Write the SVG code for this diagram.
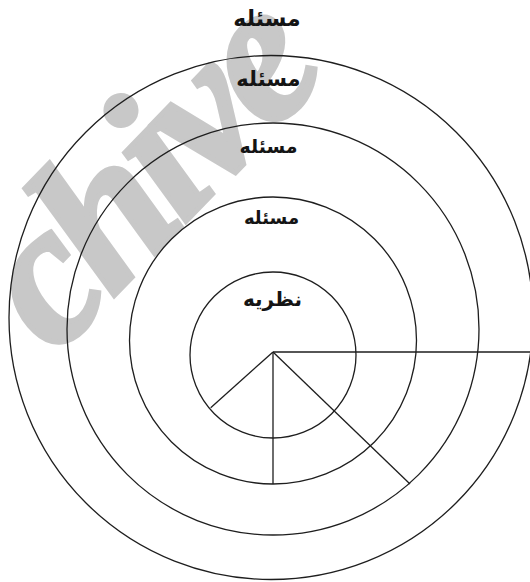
<svg xmlns="http://www.w3.org/2000/svg" width="530" height="582" viewBox="0 0 530 582">
<style>
.ring{fill:none;stroke:#1e1e1e;stroke-width:1.3}
.ln{stroke:#1e1e1e;stroke-width:1.3;fill:none}
.lbl{font-family:"DejaVu Sans",sans-serif;font-weight:bold;fill:#141414;text-anchor:middle}
.wm{font-family:"Liberation Serif",serif;font-weight:bold;font-style:italic;fill:#c8c8c8;stroke:#c8c8c8;stroke-width:5}
</style>
<rect width="530" height="582" fill="#ffffff"/>
<text class="wm" font-size="200" letter-spacing="-9" transform="translate(56,356) rotate(-46)">chive</text>
<g id="ring4"><circle class="ring" cx="271" cy="317.5" r="262"/></g>
<g id="ring3"><circle class="ring" cx="273" cy="329" r="206"/></g>
<g id="ring2"><circle class="ring" cx="273" cy="340.5" r="143.5"/></g>
<g id="ring1"><circle class="ring" cx="273" cy="355" r="83"/></g>
<g id="connectors">
<line class="ln" x1="273" y1="352" x2="530" y2="352"/>
<line class="ln" x1="273" y1="352" x2="273" y2="484"/>
<line class="ln" x1="273" y1="352" x2="210.7" y2="407.7"/>
<line class="ln" x1="273" y1="352" x2="410" y2="484"/>
</g>
<g id="label1"><text class="lbl" x="267" y="26" font-size="22">مسئله</text></g>
<g id="label2"><text class="lbl" x="268.5" y="86" font-size="21">مسئله</text></g>
<g id="label3"><text class="lbl" x="268.5" y="153" font-size="19">مسئله</text></g>
<g id="label4"><text class="lbl" x="271.5" y="224" font-size="18">مسئله</text></g>
<g id="theory"><text class="lbl" x="272.5" y="306" font-size="20">نظریه</text></g>
</svg>
